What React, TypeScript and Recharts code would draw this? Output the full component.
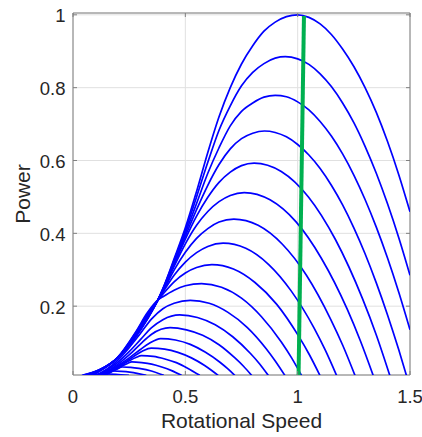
import { CartesianGrid, Line, LineChart, ReferenceArea, XAxis, YAxis } from "recharts";

// [rotational speed, power], one list per wind speed (pu)
const curve100 = [[0.04, 0.01], [0.12, 0.026], [0.2, 0.059], [0.28, 0.116], [0.33, 0.163], [0.378, 0.217], [0.4, 0.248], [0.45, 0.33], [0.5, 0.415], [0.55, 0.515], [0.6, 0.622], [0.65, 0.72], [0.7, 0.8], [0.75, 0.865], [0.8, 0.915], [0.85, 0.955], [0.9, 0.98], [0.95, 0.995], [1.0, 1.0], [1.05, 0.993], [1.1, 0.975], [1.15, 0.946], [1.2, 0.906], [1.25, 0.858], [1.3, 0.8], [1.35, 0.732], [1.4, 0.652], [1.45, 0.561], [1.5, 0.459]];
const curve96 = [[0.045, 0.01], [0.12, 0.026], [0.2, 0.059], [0.28, 0.117], [0.33, 0.164], [0.378, 0.217], [0.4, 0.247], [0.45, 0.326], [0.5, 0.408], [0.55, 0.5], [0.6, 0.595], [0.65, 0.683], [0.7, 0.75], [0.75, 0.805], [0.8, 0.842], [0.85, 0.866], [0.9, 0.881], [0.945, 0.885], [1.0, 0.879], [1.05, 0.864], [1.1, 0.838], [1.15, 0.803], [1.2, 0.758], [1.25, 0.704], [1.3, 0.639], [1.35, 0.565], [1.4, 0.481], [1.45, 0.388], [1.5, 0.285]];
const curve92 = [[0.05, 0.01], [0.12, 0.026], [0.2, 0.059], [0.28, 0.118], [0.33, 0.165], [0.378, 0.217], [0.4, 0.246], [0.45, 0.322], [0.5, 0.4], [0.55, 0.482], [0.6, 0.565], [0.65, 0.635], [0.7, 0.695], [0.75, 0.735], [0.8, 0.758], [0.85, 0.774], [0.9, 0.779], [0.95, 0.775], [1.0, 0.761], [1.05, 0.739], [1.1, 0.707], [1.15, 0.667], [1.2, 0.618], [1.25, 0.56], [1.3, 0.493], [1.35, 0.417], [1.4, 0.332], [1.45, 0.238], [1.5, 0.135]];
const curve88 = [[0.055, 0.01], [0.12, 0.025], [0.2, 0.059], [0.28, 0.12], [0.33, 0.167], [0.378, 0.217], [0.4, 0.245], [0.45, 0.318], [0.5, 0.392], [0.55, 0.465], [0.6, 0.532], [0.65, 0.589], [0.7, 0.632], [0.75, 0.66], [0.8, 0.675], [0.852, 0.681], [0.9, 0.677], [0.95, 0.665], [1.0, 0.644], [1.05, 0.615], [1.1, 0.578], [1.15, 0.532], [1.2, 0.478], [1.25, 0.415], [1.3, 0.344], [1.35, 0.264], [1.4, 0.176], [1.45, 0.08], [1.484, 0.01]];
const curve84 = [[0.06, 0.01], [0.12, 0.025], [0.2, 0.059], [0.28, 0.121], [0.33, 0.169], [0.378, 0.217], [0.4, 0.244], [0.45, 0.314], [0.5, 0.384], [0.55, 0.447], [0.6, 0.499], [0.65, 0.54], [0.7, 0.568], [0.75, 0.586], [0.806, 0.593], [0.927, 0.57], [1.048, 0.5], [1.168, 0.383], [1.289, 0.22], [1.35, 0.121], [1.41, 0.01]];
const curve80 = [[0.065, 0.01], [0.12, 0.024], [0.2, 0.059], [0.28, 0.122], [0.33, 0.171], [0.378, 0.217], [0.4, 0.242], [0.45, 0.309], [0.5, 0.371], [0.55, 0.422], [0.6, 0.46], [0.65, 0.487], [0.7, 0.504], [0.762, 0.512], [0.877, 0.492], [0.992, 0.432], [1.106, 0.331], [1.221, 0.191], [1.279, 0.105], [1.336, 0.01]];
const curve76 = [[0.07, 0.01], [0.12, 0.024], [0.2, 0.059], [0.28, 0.124], [0.33, 0.173], [0.378, 0.217], [0.4, 0.24], [0.45, 0.299], [0.5, 0.348], [0.55, 0.386], [0.6, 0.413], [0.65, 0.431], [0.716, 0.439], [0.824, 0.422], [0.932, 0.37], [1.039, 0.285], [1.147, 0.164], [1.201, 0.092], [1.255, 0.01]];
const curve72 = [[0.075, 0.01], [0.12, 0.023], [0.2, 0.059], [0.28, 0.126], [0.33, 0.176], [0.378, 0.217], [0.4, 0.238], [0.45, 0.285], [0.5, 0.321], [0.55, 0.347], [0.6, 0.364], [0.668, 0.373], [0.769, 0.359], [0.87, 0.315], [0.971, 0.242], [1.072, 0.141], [1.123, 0.079], [1.173, 0.01]];
const curve68 = [[0.08, 0.01], [0.12, 0.023], [0.2, 0.06], [0.28, 0.128], [0.33, 0.178], [0.378, 0.217], [0.4, 0.233], [0.45, 0.267], [0.5, 0.291], [0.55, 0.306], [0.618, 0.314], [0.714, 0.302], [0.81, 0.265], [0.907, 0.205], [1.003, 0.119], [1.051, 0.068], [1.099, 0.01]];
const curve64 = [[0.085, 0.01], [0.12, 0.022], [0.2, 0.06], [0.28, 0.13], [0.33, 0.181], [0.378, 0.217], [0.4, 0.226], [0.45, 0.244], [0.5, 0.256], [0.572, 0.262], [0.661, 0.252], [0.75, 0.222], [0.839, 0.171], [0.928, 0.101], [0.973, 0.058], [1.017, 0.01]];
const curve60 = [[0.1, 0.01], [0.15, 0.027], [0.2, 0.052], [0.25, 0.086], [0.3, 0.125], [0.35, 0.165], [0.4, 0.193], [0.45, 0.208], [0.522, 0.216], [0.606, 0.208], [0.69, 0.183], [0.775, 0.142], [0.859, 0.084], [0.901, 0.049], [0.943, 0.01]];
const curve56 = [[0.106, 0.01], [0.15, 0.024], [0.2, 0.046], [0.25, 0.075], [0.3, 0.108], [0.35, 0.141], [0.4, 0.163], [0.475, 0.176], [0.554, 0.169], [0.633, 0.149], [0.711, 0.116], [0.79, 0.07], [0.83, 0.042], [0.869, 0.01]];
const curve52 = [[0.112, 0.01], [0.15, 0.021], [0.2, 0.041], [0.25, 0.066], [0.3, 0.096], [0.35, 0.123], [0.432, 0.141], [0.505, 0.135], [0.577, 0.12], [0.65, 0.094], [0.722, 0.057], [0.759, 0.035], [0.795, 0.01]];
const curve48 = [[0.118, 0.01], [0.16, 0.022], [0.2, 0.037], [0.25, 0.058], [0.3, 0.081], [0.34, 0.098], [0.39, 0.111], [0.456, 0.107], [0.522, 0.095], [0.588, 0.074], [0.654, 0.046], [0.687, 0.029], [0.72, 0.01]];
const curve44 = [[0.124, 0.01], [0.17, 0.024], [0.22, 0.042], [0.27, 0.062], [0.31, 0.077], [0.348, 0.085], [0.408, 0.082], [0.467, 0.073], [0.527, 0.058], [0.586, 0.037], [0.616, 0.024], [0.646, 0.01]];
const curve40 = [[0.13, 0.01], [0.17, 0.022], [0.21, 0.036], [0.25, 0.05], [0.28, 0.059], [0.305, 0.064], [0.357, 0.062], [0.409, 0.055], [0.46, 0.045], [0.512, 0.029], [0.564, 0.01]];
const curve36 = [[0.136, 0.01], [0.17, 0.02], [0.21, 0.033], [0.24, 0.042], [0.262, 0.047], [0.306, 0.045], [0.35, 0.041], [0.395, 0.033], [0.439, 0.023], [0.483, 0.01]];
const curve32 = [[0.142, 0.01], [0.17, 0.019], [0.195, 0.027], [0.22, 0.033], [0.257, 0.032], [0.294, 0.029], [0.349, 0.022], [0.404, 0.01]];
const curve28 = [[0.11, 0.01], [0.14, 0.016], [0.178, 0.022], [0.215, 0.021], [0.252, 0.019], [0.29, 0.015], [0.326, 0.01]];
const curve24 = [[0.09, 0.01], [0.136, 0.014], [0.19, 0.013], [0.249, 0.01]];

const greenLine = [[1.004, 0.01], [1.028, 0.997]];

const xTicks = [0, 0.5, 1, 1.5];
const yTicks = [0.2, 0.4, 0.6, 0.8, 1];
const xDomain = [0, 1.5];
const yDomain = [0.011, 1.005];

const curves = [
    curve100, curve96, curve92, curve88, curve84, curve80, curve76, curve72, curve68, curve64,
    curve60, curve56, curve52, curve48, curve44, curve40, curve36, curve32, curve28, curve24,
];

const plot = { left: 73, right: 410, top: 13, bottom: 375 };
const axisGray = "#808080";
const textColor = "#262626";
const font = '"Liberation Sans", Arial, Helvetica, sans-serif';
const tickLen = 4;

const toPoints = (pairs: number[][]) => pairs.map(([x, p]) => ({ x, p }));

const XTick = (props: any) => {
    const { x, payload } = props;
    return (
        <g>
            <line x1={x} x2={x} y1={plot.bottom} y2={plot.bottom - tickLen} stroke={axisGray} />
            <line x1={x} x2={x} y1={plot.top} y2={plot.top + tickLen} stroke={axisGray} />
            <text x={x} y={403} textAnchor="middle" fontSize={18.5} fontFamily={font} fill={textColor}>
                {String(payload.value)}
            </text>
        </g>
    );
};

const YTick = (props: any) => {
    const { y, payload } = props;
    return (
        <g>
            <line x1={plot.left} x2={plot.left + tickLen} y1={y} y2={y} stroke={axisGray} />
            <line x1={plot.right} x2={plot.right - tickLen} y1={y} y2={y} stroke={axisGray} />
            <text x={65.5} y={y + 7.5} textAnchor="end" fontSize={18.5} fontFamily={font} fill={textColor}>
                {String(payload.value)}
            </text>
        </g>
    );
};

const xTitle = () => (
    <text x={(plot.left + plot.right) / 2} y={428} textAnchor="middle" fontSize={21} fontFamily={font} fill={textColor}>
        Rotational Speed
    </text>
);

const yTitle = () => (
    <text x={30} y={194} transform="rotate(-90, 30, 194)" textAnchor="middle" fontSize={21} fontFamily={font} fill={textColor}>
        Power
    </text>
);

export default function App() {
    return (
        <div style={{ position: "absolute", left: 0, top: 0 }}>
            <LineChart width={422} height={437} margin={{ top: 13, right: 12, bottom: 0, left: 0 }}>
                <CartesianGrid stroke="#e0e0e0" />
                <XAxis
                    type="number"
                    dataKey="x"
                    domain={xDomain}
                    ticks={xTicks}
                    interval={0}
                    allowDataOverflow
                    height={62}
                    tick={XTick}
                    tickLine={false}
                    axisLine={false}
                    label={xTitle}
                />
                <YAxis
                    type="number"
                    domain={yDomain}
                    ticks={yTicks}
                    interval={0}
                    allowDataOverflow
                    width={73}
                    tick={YTick}
                    tickLine={false}
                    axisLine={false}
                    label={yTitle}
                />
                <ReferenceArea
                    x1={xDomain[0]}
                    x2={xDomain[1]}
                    y1={yDomain[0]}
                    y2={yDomain[1]}
                    fill="none"
                    stroke={axisGray}
                    strokeWidth={1}
                    ifOverflow="visible"
                />
                {curves.map((c, i) => (
                    <Line
                        key={i}
                        data={toPoints(c)}
                        dataKey="p"
                        type="monotone"
                        stroke="#0000ff"
                        strokeWidth={1.7}
                        dot={false}
                        activeDot={false}
                        isAnimationActive={false}
                    />
                ))}
                <Line
                    data={toPoints(greenLine)}
                    dataKey="p"
                    type="linear"
                    stroke="#00b050"
                    strokeWidth={4}
                    dot={false}
                    activeDot={false}
                    isAnimationActive={false}
                />
            </LineChart>
        </div>
    );
}
